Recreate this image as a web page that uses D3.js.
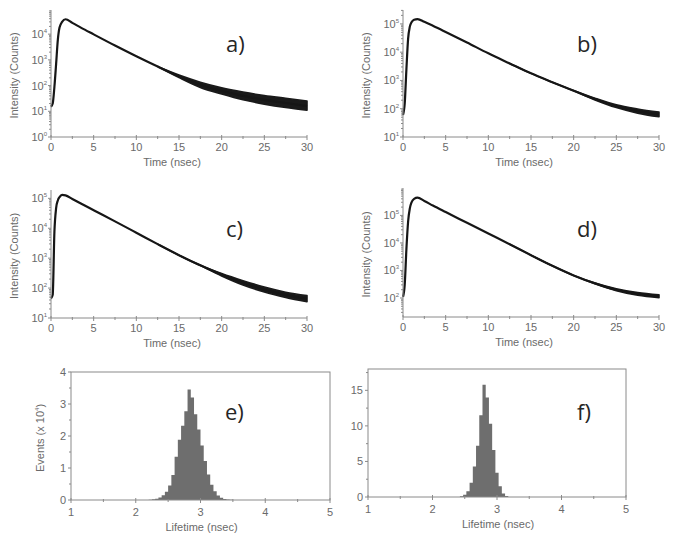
<!DOCTYPE html>
<html><head><meta charset="utf-8">
<script src="https://cdn.jsdelivr.net/npm/d3@7"></script>
<style>body{margin:0;background:#fff} svg{display:block}</style>
</head><body><svg id="chart" width="675" height="538"></svg>
<script>
// ---------- data ----------
const timeNs = [0,0.2,0.4,0.6,0.8,1.0,1.3,1.7,2.5,3.5,5,7.5,10,12.5,15,17.5,20,22.5,25,27.5,30];
const countsA = [15,20,90,700,6000,18000,30000,38000,27500,18000,9800,3600,1380,550,230,107,62,40,28,21,16];
const countsB = [60,150,2500,30000,80000,115000,140000,148000,118000,86000,52000,22000,9100,4000,1780,870,435,220,123,83,63];
const countsC = [45,60,7600,47000,85000,110000,130000,126000,95000,67000,40000,17000,7100,2950,1260,575,282,151,89,59,44];
const countsD = [110,300,6000,60000,180000,300000,400000,440000,335000,228000,132000,54000,22000,9000,3600,1480,660,340,200,141,115];

const tailTimeNs = [12.5,15,17.5,20,22.5,25,27.5,30];
const lowA  = [550,205,85,47,28,19,14,11];
const highA = [550,255,135,82,56,41,32,25];
const lowB  = [4000,1780,870,430,205,110,70,52];
const highB = [4000,1780,870,440,235,137,98,76];
const lowC  = [2950,1260,565,255,127,74,49,35];
const highC = [2950,1260,585,308,177,108,73,56];
const lowD  = [9000,3600,1480,660,330,183,125,102];
const highD = [9000,3600,1480,660,350,217,158,130];

const timeTicks = [0,5,10,15,20,25,30];
const lifetimeTicks = [1,2,3,4,5];

const binWidth = 0.05;
const binStartE = [2.20,2.25,2.30,2.35,2.40,2.45,2.50,2.55,2.60,2.65,2.70,2.75,2.80,2.85,2.90,2.95,3.00,3.05,3.10,3.15,3.20,3.25,3.30,3.35,3.40,3.45];
const eventsE   = [0.01,0.02,0.04,0.08,0.15,0.26,0.45,0.78,1.35,1.88,2.32,2.77,3.45,3.20,2.68,2.20,1.70,1.22,0.80,0.48,0.27,0.14,0.07,0.035,0.015,0.006];
const binStartF = [2.425,2.475,2.525,2.575,2.625,2.675,2.725,2.775,2.825,2.875,2.925,2.975,3.025,3.075,3.125];
const eventsF   = [0.1,0.3,0.8,2.0,4.3,7.2,11.5,15.8,14.0,10.3,6.6,3.4,1.5,0.5,0.15];
const eventTicksE = [0,1,2,3,4];
const eventTicksF = [0,5,10,15];

// ---------- drawing ----------
const svg = d3.select("#chart");
const AX = "#8a8a8a", TXT = "#6a6a6a", FONT = "'Liberation Sans', Arial, sans-serif";

function decay(cfg) {
  const g = svg.append("g");
  const x = d3.scaleLinear().domain([0, 30]).range(cfg.xr);
  const y = d3.scaleLog().domain(cfg.yd).range(cfg.yr);
  const x0 = cfg.xr[0], y0 = cfg.yr[0];
  // noise band
  const band = tailTimeNs.map((t, i) => ({t, lo: cfg.lo[i], hi: cfg.hi[i]}));
  g.append("path").datum(band)
    .attr("d", d3.area().x(d => x(d.t)).y0(d => y(d.lo)).y1(d => y(d.hi)).curve(d3.curveMonotoneX))
    .attr("fill", "#1a1a1a").attr("stroke", "#1a1a1a").attr("stroke-width", 1.6).attr("stroke-linejoin", "round");
  // decay curve
  const pts = timeNs.map((t, i) => ({t, v: cfg.counts[i]}));
  g.append("path").datum(pts)
    .attr("d", d3.line().x(d => x(d.t)).y(d => y(d.v)).curve(d3.curveMonotoneX))
    .attr("fill", "none").attr("stroke", "#161616").attr("stroke-width", 2.2).attr("stroke-linejoin", "round");
  // x axis
  g.append("line").attr("x1", x0).attr("x2", cfg.xr[1]).attr("y1", y0).attr("y2", y0).attr("stroke", AX);
  d3.range(0, 30.01, 2.5).forEach(t => {
    const major = t % 5 === 0;
    g.append("line").attr("x1", x(t)).attr("x2", x(t)).attr("y1", y0 - (major ? 2 : 1)).attr("y2", y0 + (major ? 3 : 2)).attr("stroke", AX);
  });
  timeTicks.forEach(t => {
    g.append("text").attr("x", x(t)).attr("y", y0 + 14).attr("text-anchor", "middle")
      .attr("font-family", FONT).attr("font-size", 11).attr("fill", TXT).text(t);
  });
  g.append("text").attr("x", (x0 + cfg.xr[1]) / 2 - 7).attr("y", y0 + 29).attr("text-anchor", "middle")
    .attr("font-family", FONT).attr("font-size", 11).attr("fill", TXT).text("Time (nsec)");
  // y axis
  g.append("line").attr("x1", x0).attr("x2", x0).attr("y1", cfg.yr[0]).attr("y2", cfg.yr[1]).attr("stroke", AX);
  y.ticks().forEach(v => {
    const e = Math.log10(v), major = Math.abs(e - Math.round(e)) < 1e-9;
    g.append("line").attr("x1", x0 - (major ? 3 : 2)).attr("x2", x0).attr("y1", y(v)).attr("y2", y(v)).attr("stroke", AX);
    if (major) {
      const tx = g.append("text").attr("x", x0 - 4).attr("y", y(v) + 4).attr("text-anchor", "end")
        .attr("font-family", FONT).attr("font-size", 11).attr("fill", TXT);
      tx.append("tspan").text("10");
      tx.append("tspan").attr("dy", -5).attr("font-size", 6).text(Math.round(e));
    }
  });
  g.append("text").attr("transform", `translate(${x0 - 33},${(cfg.yr[0] + cfg.yr[1]) / 2 + 2}) rotate(-90)`)
    .attr("text-anchor", "middle").attr("font-family", FONT).attr("font-size", 11).attr("fill", TXT).text("Intensity (Counts)");
  // panel label
  g.append("text").attr("x", cfg.lab[0]).attr("y", cfg.lab[1]).attr("font-family", "'Open Sans', 'Noto Sans', sans-serif")
    .attr("font-size", 22).attr("fill", "#262626").text(cfg.label);
}

function hist(cfg) {
  const g = svg.append("g");
  const x = d3.scaleLinear().domain([1, 5]).range(cfg.xr);
  const y = d3.scaleLinear().domain([0, cfg.ymax]).range(cfg.yr);
  const steps = cfg.bins.map((b, i) => ({t: b, v: cfg.vals[i]}));
  steps.push({t: cfg.bins[cfg.bins.length - 1] + binWidth, v: 0});
  g.append("path").datum(steps)
    .attr("d", d3.area().x(d => x(d.t)).y0(y(0)).y1(d => y(d.v)).curve(d3.curveStepAfter))
    .attr("fill", "#6e6e6e");
  g.append("rect").attr("x", cfg.xr[0]).attr("y", cfg.yr[1]).attr("width", cfg.xr[1] - cfg.xr[0]).attr("height", cfg.yr[0] - cfg.yr[1])
    .attr("fill", "none").attr("stroke", AX);
  d3.range(1, 5.01, 0.5).forEach(t => {
    const major = t % 1 === 0;
    g.append("line").attr("x1", x(t)).attr("x2", x(t)).attr("y1", cfg.yr[0] - (major ? 2 : 1)).attr("y2", cfg.yr[0] + (major ? 3 : 2)).attr("stroke", AX);
  });
  lifetimeTicks.forEach(t => {
    g.append("text").attr("x", x(t)).attr("y", cfg.yr[0] + 16).attr("text-anchor", "middle")
      .attr("font-family", FONT).attr("font-size", 11).attr("fill", TXT).text(t);
  });
  g.append("text").attr("x", (cfg.xr[0] + cfg.xr[1]) / 2 + 1).attr("y", cfg.yr[0] + 31).attr("text-anchor", "middle")
    .attr("font-family", FONT).attr("font-size", 11).attr("fill", TXT).text("Lifetime (nsec)");
  const step = cfg.ticks[1] - cfg.ticks[0];
  d3.range(0, cfg.ymax + 0.001, step / 2).forEach(v => {
    const major = Math.abs(v / step - Math.round(v / step)) < 1e-9;
    g.append("line").attr("x1", cfg.xr[0] - (major ? 3 : 2)).attr("x2", cfg.xr[0]).attr("y1", y(v)).attr("y2", y(v)).attr("stroke", AX);
  });
  cfg.ticks.forEach(v => {
    g.append("text").attr("x", cfg.xr[0] - 5).attr("y", y(v) + 4).attr("text-anchor", "end")
      .attr("font-family", FONT).attr("font-size", 11).attr("fill", TXT).text(v);
  });
  if (cfg.ytitle) {
    const tx = g.append("text").attr("transform", `translate(${cfg.xr[0] - 27},${(cfg.yr[0] + cfg.yr[1]) / 2 + 2}) rotate(-90)`)
      .attr("text-anchor", "middle").attr("font-family", FONT).attr("font-size", 11).attr("fill", TXT);
    tx.append("tspan").text("Events (x 10");
    tx.append("tspan").attr("dy", -5).attr("font-size", 6).text("4");
    tx.append("tspan").attr("dy", 5).text(")");
  }
  g.append("text").attr("x", cfg.lab[0]).attr("y", cfg.lab[1]).attr("font-family", "'Open Sans', 'Noto Sans', sans-serif")
    .attr("font-size", 22).attr("fill", "#262626").text(cfg.label);
}

decay({xr: [51, 307], yr: [137, 10], yd: [1, 87000], counts: countsA, lo: lowA, hi: highA, label: "a)", lab: [226, 52]});
decay({xr: [403, 659], yr: [137, 10], yd: [10, 310000], counts: countsB, lo: lowB, hi: highB, label: "b)", lab: [577, 52]});
decay({xr: [51, 307], yr: [318, 190], yd: [10, 190000], counts: countsC, lo: lowC, hi: highC, label: "c)", lab: [226, 237]});
decay({xr: [403, 659], yr: [317, 188], yd: [20.4, 990000], counts: countsD, lo: lowD, hi: highD, label: "d)", lab: [577, 237]});
hist({xr: [71, 330], yr: [500, 372], ymax: 4, ticks: eventTicksE, bins: binStartE, vals: eventsE, ytitle: true, label: "e)", lab: [225, 420]});
hist({xr: [368, 626], yr: [497, 369], ymax: 18, ticks: eventTicksF, bins: binStartF, vals: eventsF, ytitle: false, label: "f)", lab: [577, 420]});
</script>
</body></html>
